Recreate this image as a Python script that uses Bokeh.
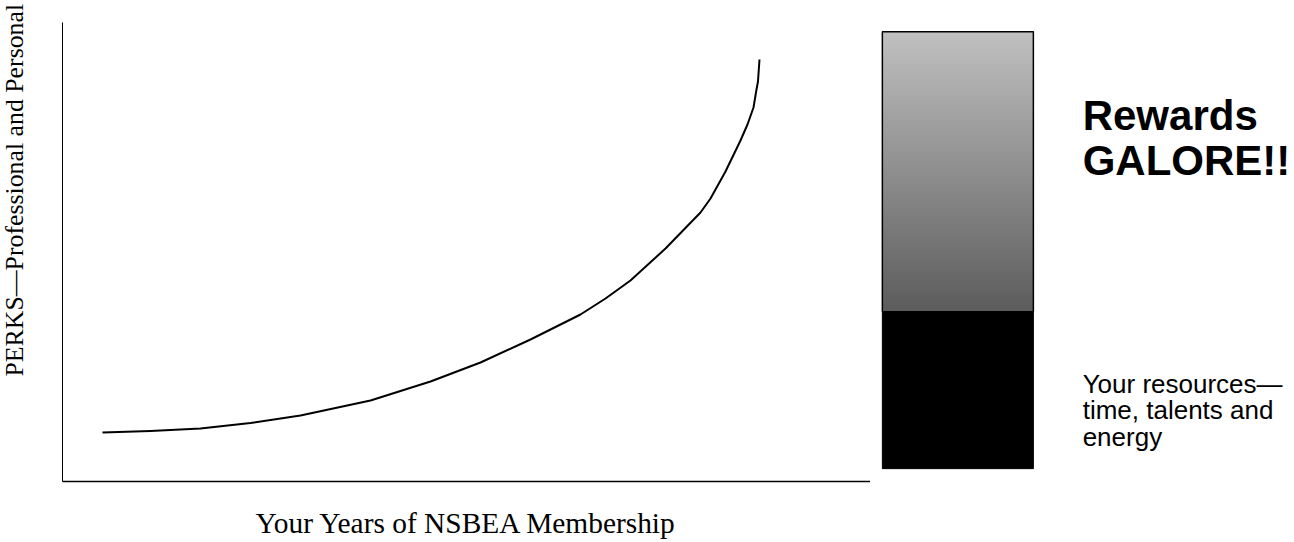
import numpy as np
from bokeh.plotting import figure
from bokeh.models import Range1d, FixedTicker, Label
from bokeh.layouts import row
from bokeh.embed import file_html
from bokeh.resources import INLINE

# ---- data ----
years = [0.990, 2.178, 3.416, 4.653, 5.891, 7.624, 9.109, 10.347, 11.584,
         12.822, 13.441, 14.059, 14.926, 15.792, 16.040, 16.411, 16.782,
         16.955, 17.104, 17.178, 17.215, 17.252]
perks = [10.68, 11.00, 11.55, 12.75, 14.38, 17.65, 21.79, 25.93, 30.94,
         36.38, 39.87, 43.79, 50.76, 58.61, 61.66, 67.54, 74.29,
         77.78, 81.48, 85.40, 87.15, 91.94]

bar_base = 2.8
resources = 34.2
rewards = 61.0

x_title = "Your Years of NSBEA Membership"
y_title = "PERKS\u2014Professional and Personal"
rewards_lines = ["Rewards", "GALORE!!"]
resources_lines = ["Your resources\u2014", "time, talents and", "energy"]

SERIF = "Liberation Serif"
SANS = "Liberation Sans"
H = 541
FRAME_H = 481          # frames run from the top of the page to the x axis
Y_MAX = 100.0          # top of the PERKS axis
Y_TOP = Y_MAX * FRAME_H / 459.0


def drop_title(p):
    try:
        p.title = None
    except Exception:
        p.title.visible = False


# ---- y-title strip (data = page pixels) ----
p0 = figure(width=40, height=H, output_backend="svg", toolbar_location=None,
            x_range=Range1d(0, 40), y_range=Range1d(FRAME_H, 0),
            min_border_left=0, min_border_right=0, min_border_top=0,
            min_border_bottom=H - FRAME_H)
drop_title(p0)
p0.outline_line_color = None
p0.grid.visible = False
p0.axis.visible = False
p0.text(x=[14], y=[376], text=[y_title], angle=np.pi / 2,
        text_align="left", text_baseline="middle",
        text_font={"value": SERIF}, text_font_size="25.8px",
        text_color="black")

# ---- main chart ----
p1 = figure(width=830, height=H, output_backend="svg", toolbar_location=None,
            x_range=Range1d(0, 20), y_range=Range1d(0, Y_TOP),
            min_border_left=22, min_border_right=0, min_border_top=0,
            min_border_bottom=H - FRAME_H)
drop_title(p1)
p1.outline_line_color = None
p1.grid.visible = False
for ax in (p1.xaxis, p1.yaxis):
    ax.ticker = FixedTicker(ticks=[])
    ax.axis_line_color = "black"
    ax.major_tick_line_color = None
    ax.minor_tick_line_color = None
    ax.major_tick_out = 0
    ax.major_tick_in = 0
    ax.major_label_standoff = 0
p1.yaxis.bounds = (0, Y_MAX)
p1.yaxis.axis_line_width = 1
p1.xaxis.axis_line_width = 1.5
p1.xaxis.axis_label = x_title
p1.xaxis.axis_label_text_font = SERIF
p1.xaxis.axis_label_text_font_size = "29.4px"
p1.xaxis.axis_label_text_font_style = "normal"
p1.xaxis.axis_label_text_color = "black"
p1.xaxis.axis_label_standoff = 25

p1.line(years, perks, line_color="black", line_width=2, line_join="round")

# ---- bar + text ----
p2 = figure(width=424, height=H, output_backend="svg", toolbar_location=None,
            x_range=Range1d(0, 424 / 41.6), y_range=Range1d(0, Y_TOP),
            min_border_left=0, min_border_right=0, min_border_top=0,
            min_border_bottom=H - FRAME_H)
drop_title(p2)
p2.outline_line_color = None
p2.grid.visible = False
p2.axis.visible = False

bx = 2.10
bw = 3.63
split = bar_base + resources
top = split + rewards

p2.vbar(x=[bx], width=bw, bottom=[bar_base], top=[split],
        fill_color="black", line_color="black", line_width=1)

n = 150
edges = np.linspace(split, top, n + 1)
c0, c1 = 0x5c, 0xc0
cols = []
for i in range(n):
    t = (i + 0.5) / n
    g = int(round(c0 + (c1 - c0) * t))
    cols.append("#%02x%02x%02x" % (g, g, g))
p2.quad(left=bx - bw / 2, right=bx + bw / 2, bottom=edges[:-1],
        top=[top] * n, fill_color=cols, line_color=None)
p2.vbar(x=[bx], width=bw, bottom=[split], top=[top], fill_color=None,
        line_color="black", line_width=1.5)

tx = 5.10
for txt, yv in zip(rewards_lines, [79.7, 69.9]):
    p2.add_layout(Label(x=tx, y=yv, text=txt, text_align="left",
                        text_baseline="middle", text_font=SANS,
                        text_font_style="bold", text_font_size="42px",
                        text_color="black"))
for txt, yv in zip(resources_lines, [21.35, 15.47, 9.59]):
    p2.add_layout(Label(x=tx, y=yv, text=txt, text_align="left",
                        text_baseline="middle", text_font=SANS,
                        text_font_size="26px", text_color="black"))

layout = row(p0, p1, p2, spacing=0)
open("out.html", "w").write(file_html(layout, INLINE))
